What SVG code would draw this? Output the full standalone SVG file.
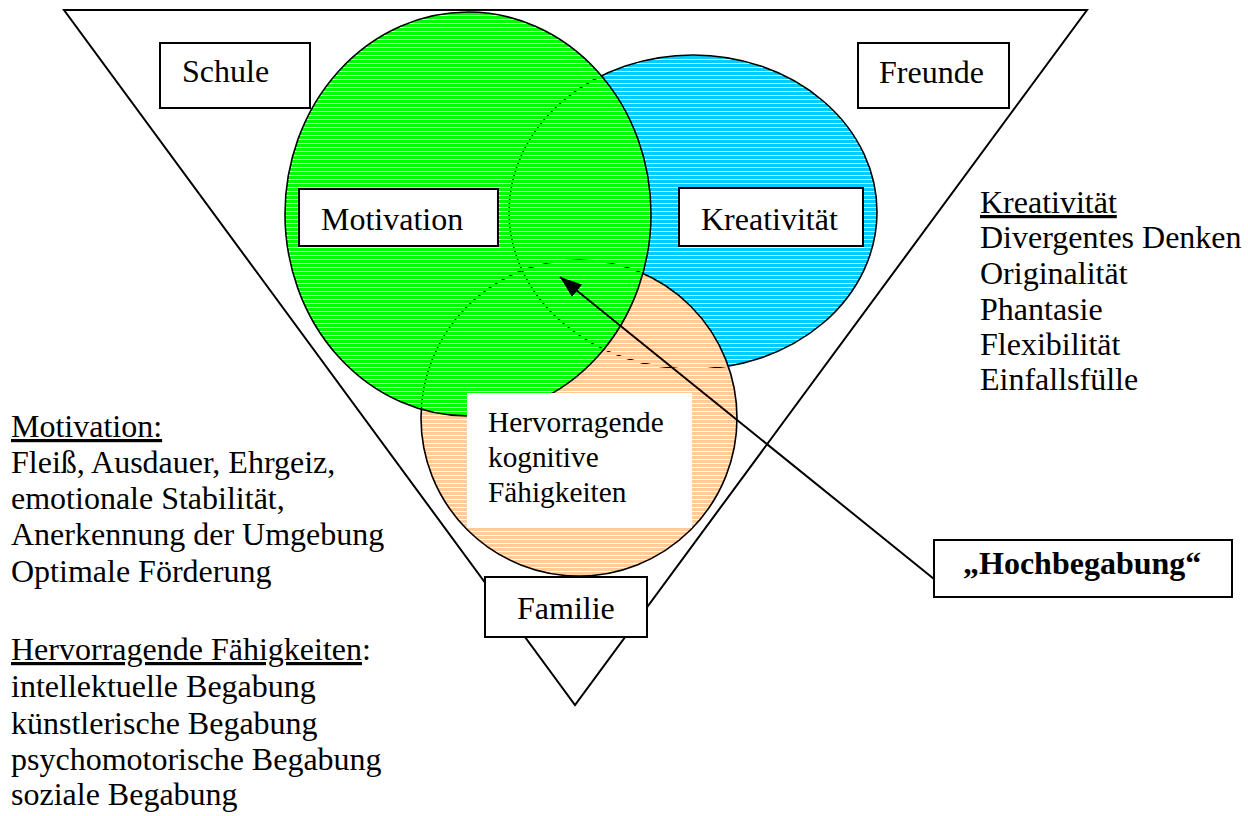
<svg xmlns="http://www.w3.org/2000/svg" width="1248" height="816" viewBox="0 0 1248 816">
<style>
text{font-family:"Liberation Serif","Times New Roman",serif;font-size:32px;fill:#000}
.box{fill:#fff;stroke:#000;stroke-width:2}
.ell{stroke:#000;stroke-width:1.6}
.u{text-decoration:underline}
.small{font-size:29.3px}
</style>
<defs>
<pattern id="pg" patternUnits="userSpaceOnUse" width="8" height="4"><rect width="8" height="3" fill="#00FF00"/></pattern>
<pattern id="pb" patternUnits="userSpaceOnUse" width="8" height="4"><rect width="8" height="3" fill="#00CCFF"/></pattern>
<pattern id="pp" patternUnits="userSpaceOnUse" width="8" height="4"><rect width="8" height="3" fill="#FFCC99"/></pattern>
<marker id="ah" markerUnits="userSpaceOnUse" markerWidth="24" markerHeight="18" refX="22" refY="8" orient="auto"><path d="M0,0 L22,8 L0,16 z" fill="#000"/></marker>
</defs>
<rect width="1248" height="816" fill="#fff"/>
<g id="triangle"><polygon points="64,10 1087,10 575,705" fill="none" stroke="#000" stroke-width="2"/></g>
<g id="kreativitaet-circle"><ellipse class="ell" cx="693" cy="212" rx="184" ry="157" fill="url(#pb)"/></g>
<g id="faehigkeiten-circle"><circle class="ell" cx="579" cy="418" r="158" fill="url(#pp)"/></g>
<g id="motivation-circle"><ellipse class="ell" cx="468" cy="214" rx="183" ry="202" fill="url(#pg)"/></g>
<g id="schule"><rect class="box" x="160" y="43" width="150" height="65"/><text x="182" y="82">Schule</text></g>
<g id="freunde"><rect class="box" x="858" y="43" width="151" height="65"/><text x="879" y="83">Freunde</text></g>
<g id="motivation"><rect class="box" x="299" y="189" width="199" height="57"/><text x="321" y="230">Motivation</text></g>
<g id="kreativitaet"><rect class="box" x="679" y="188" width="184" height="58"/><text x="701" y="230">Kreativität</text></g>
<g id="faehigkeiten"><rect x="467" y="393" width="225" height="135" fill="#fff"/><text class="small" x="488" y="432">Hervorragende</text><text class="small" x="488" y="467">kognitive</text><text class="small" x="488" y="502">Fähigkeiten</text></g>
<g id="familie"><rect class="box" x="485" y="577" width="162" height="60"/><text x="517" y="619">Familie</text></g>
<g id="hochbegabung"><rect class="box" x="934" y="540" width="298" height="57"/><text x="963" y="574" font-weight="bold">„Hochbegabung“</text></g>
<g id="connectors"><line x1="934" y1="579" x2="560" y2="277" stroke="#000" stroke-width="2" marker-end="url(#ah)"/></g>
<g id="text-kreativitaet">
<text x="980" y="213" class="u">Kreativität</text>
<text x="980" y="248">Divergentes Denken</text>
<text x="980" y="284">Originalität</text>
<text x="980" y="320">Phantasie</text>
<text x="980" y="355">Flexibilität</text>
<text x="980" y="390">Einfallsfülle</text>
</g>
<g id="text-motivation">
<text x="11" y="437"><tspan class="u">Motivation:</tspan></text>
<text x="11" y="473">Fleiß, Ausdauer, Ehrgeiz,</text>
<text x="11" y="509">emotionale Stabilität,</text>
<text x="11" y="545">Anerkennung der Umgebung</text>
<text x="11" y="582">Optimale Förderung</text>
</g>
<g id="text-faehigkeiten">
<text x="11" y="660"><tspan class="u">Hervorragende Fähigkeiten</tspan>:</text>
<text x="11" y="697">intellektuelle Begabung</text>
<text x="11" y="734">künstlerische Begabung</text>
<text x="11" y="770">psychomotorische Begabung</text>
<text x="11" y="805">soziale Begabung</text>
</g>
</svg>
